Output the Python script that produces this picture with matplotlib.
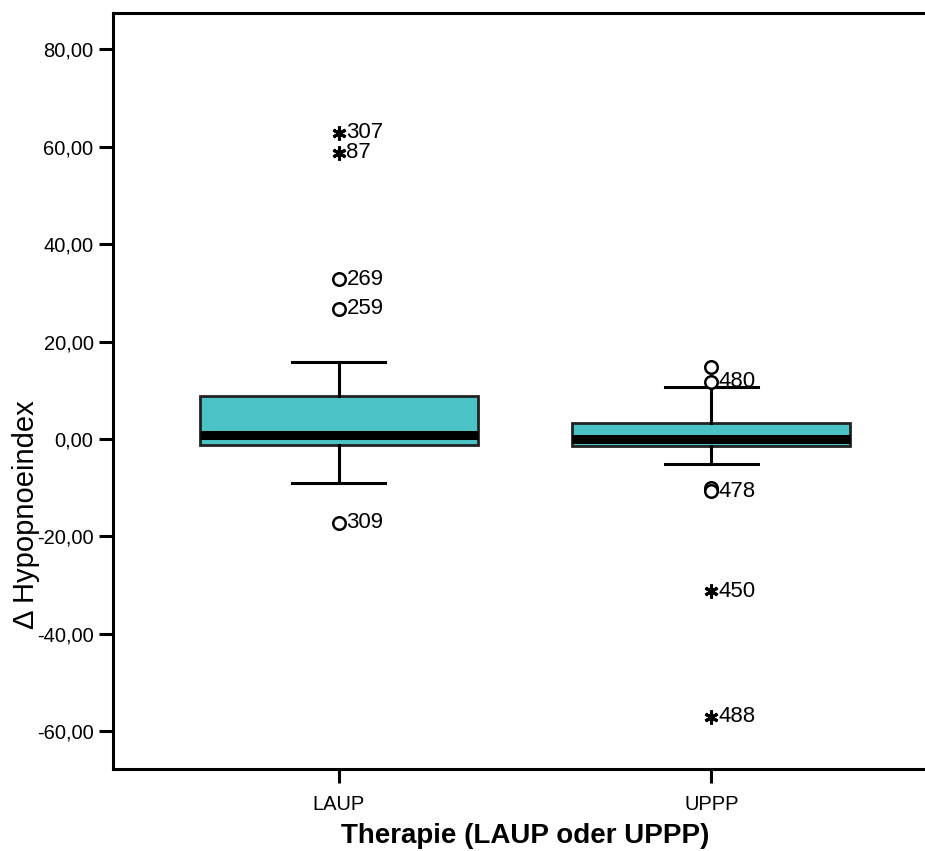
#!/usr/bin/env python
""" Boxplot: change of hypopnoea index by therapy (LAUP / UPPP) """
import matplotlib

matplotlib.use("Agg")
import matplotlib.pyplot as plt

plt.rcParams["font.family"] = ["Liberation Sans", "DejaVu Sans"]

categories = ["LAUP", "UPPP"]
q1 = [-1.2, -1.5]
medians = [0.8, -0.1]
q3 = [8.9, 3.3]
whisker_low = [-9.0, -5.1]
whisker_high = [15.8, 10.7]

# outliers (circles) and extreme values (stars), label "" = not labelled
circle_values = [[32.8, 26.7, -17.2], [14.8, 11.7, -10.0, -10.7]]
circle_labels = [["269", "259", "309"], ["", "480", "", "478"]]
star_values = [[62.8, 58.7], [-31.2, -57.0]]
star_labels = [["307", "87"], ["450", "488"]]

y_ticks = [-60, -40, -20, 0, 20, 40, 60, 80]

BOX_COLOR = "#4BC3C6"


def fmt_de(v: float) -> str:
    return f"{v:.2f}".replace(".", ",")


def main() -> None:
    fig = plt.figure(figsize=(9.25, 8.51), dpi=100)
    ax = fig.add_axes([113 / 925, 82 / 851, 824 / 925, 756 / 851])

    positions = [1, 2]
    stats = []
    for i, cat in enumerate(categories):
        stats.append(
            {
                "label": cat,
                "med": medians[i],
                "q1": q1[i],
                "q3": q3[i],
                "whislo": whisker_low[i],
                "whishi": whisker_high[i],
                "fliers": [],
            }
        )

    ax.bxp(
        stats,
        positions=positions,
        widths=0.745,
        showfliers=False,
        patch_artist=True,
        boxprops=dict(facecolor=BOX_COLOR, edgecolor="#222222", linewidth=2),
        medianprops=dict(color="black", linewidth=6.5, solid_capstyle="butt"),
        whiskerprops=dict(color="black", linewidth=2.2),
        capprops=dict(color="black", linewidth=2.2),
        capwidths=0.25,
    )

    for i, pos in enumerate(positions):
        for v, lab in zip(circle_values[i], circle_labels[i]):
            ax.plot(pos, v, marker="o", ms=9, mfc="white", mec="black", mew=1.8, zorder=4)
            if lab:
                ax.annotate(lab, (pos, v), xytext=(5.5, 0), textcoords="offset points",
                            va="center", ha="left", fontsize=16)
        for v, lab in zip(star_values[i], star_labels[i]):
            ax.plot(pos, v, marker=(6, 2, 0), ms=10, mec="black", mew=2.2, zorder=4)
            if lab:
                ax.annotate(lab, (pos, v), xytext=(5.5, 0), textcoords="offset points",
                            va="center", ha="left", fontsize=16)

    ax.set_xlim(0.394, 2.606)
    ax.set_ylim(-67.7, 87.4)
    ax.set_xticks(positions)
    ax.set_xticklabels(categories)
    ax.set_yticks(y_ticks)
    ax.set_yticklabels([fmt_de(v) for v in y_ticks])

    ax.tick_params(axis="both", direction="out", length=10, width=2.2, labelsize=14.5, pad=4)
    ax.tick_params(axis="x", pad=9)
    for side in ["left", "bottom", "top"]:
        ax.spines[side].set_linewidth(2.2)
    ax.spines["right"].set_visible(False)

    ax.set_ylabel("\u0394 Hypopnoeindex", fontsize=21)
    ax.yaxis.set_label_coords(-0.089, 0.337)
    ax.set_xlabel("Therapie (LAUP oder UPPP)", fontsize=20, fontweight="bold", labelpad=6)

    fig.savefig("out.png", dpi=100)


if __name__ == "__main__":
    main()
